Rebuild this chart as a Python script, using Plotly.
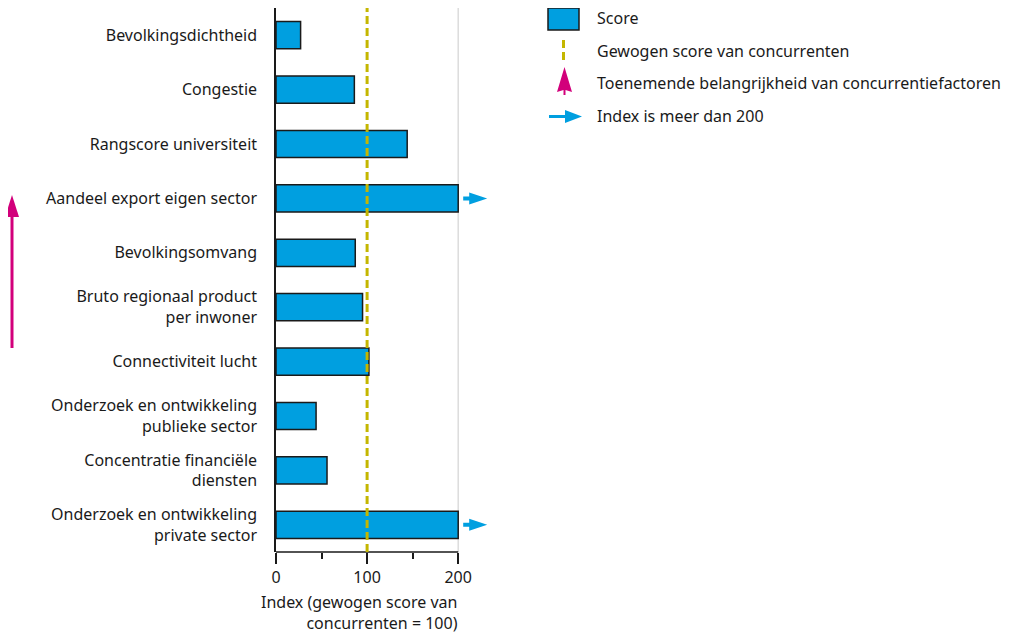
import plotly.graph_objects as go

# ---- data ----
categories = [
    "Bevolkingsdichtheid",
    "Congestie",
    "Rangscore universiteit",
    "Aandeel export eigen sector",
    "Bevolkingsomvang",
    "Bruto regionaal product<br>per inwoner",
    "Connectiviteit lucht",
    "Onderzoek en ontwikkeling<br>publieke sector",
    "Concentratie financiële<br>diensten",
    "Onderzoek en ontwikkeling<br>private sector",
]
scores = [27, 86, 144, 200, 87, 95, 102, 44, 56, 200]          # displayed (capped at 200)
above_200 = [False, False, False, True, False, False, False, False, False, True]
competitor_score = 100
x_tickvals = [0, 100, 200]
x_ticktext = ["0", "100", "200"]
x_minor_ticks = [50, 150]
x_title = "Index (gewogen score van<br>concurrenten = 100)"
legend_labels = [
    "Score",
    "Gewogen score van concurrenten",
    "Toenemende belangrijkheid van concurrentiefactoren",
    "Index is meer dan 200",
]

# ---- styles ----
BLUE = "#009fe0"
YELLOW = "#c4b600"
MAGENTA = "#d2007b"
INK = "#1a1a1a"
FONT = "Noto Sans"
FS = 16

# page body has an 8px default margin -> figure drawn from (8, 8)
OFF = 8
W, H = 1010 - OFF, 634 - OFF
L, T = 276 - OFF, 8 - OFF           # plot area origin within figure
PB = 552 - OFF                      # plot area bottom within figure


def rel(px, py):
    """page pixel -> offset relative to plot top-left corner (y up)"""
    return f"{px - OFF - L},{T - (py - OFF)}"


fig = go.Figure()
fig.add_trace(go.Bar(
    x=scores, y=categories, orientation="h", width=0.5,
    marker=dict(color=BLUE, line=dict(color=INK, width=1.5)),
    hoverinfo="skip", showlegend=False,
))

shapes = []
shapes.append(dict(type="line", xref="x", yref="paper", x0=200, x1=200, y0=0, y1=1,
                   line=dict(color="#dcdcdc", width=1.5), layer="below"))
shapes.append(dict(type="line", xref="x", yref="paper", x0=0, x1=200, y0=0, y1=0,
                   line=dict(color=INK, width=1.5), layer="above"))
shapes.append(dict(type="line", xref="x", yref="paper", x0=competitor_score, x1=competitor_score,
                   y0=0, y1=1, line=dict(color=YELLOW, width=3, dash="8px,4px"), layer="above"))

for cat, flag in zip(categories, above_200):
    if flag:
        shapes.append(dict(type="path", xref="x", yref="y", xsizemode="pixel", ysizemode="pixel",
                           xanchor=200, yanchor=cat,
                           path="M5,2 L11,2 L11,6 L29,0 L11,-6 L11,-2 L5,-2 Z",
                           fillcolor=BLUE, line=dict(width=0), layer="above"))


def pshape(path, fill=None, line=None):
    return dict(type="path", xref="paper", yref="paper", xsizemode="pixel", ysizemode="pixel",
                xanchor=0, yanchor=1, path=path, layer="above",
                fillcolor=fill if fill else "rgba(0,0,0,0)",
                line=line if line else dict(width=0))


# magenta importance arrow on the left
shapes.append(pshape(f"M{rel(10.5,214)} L{rel(13.5,214)} L{rel(13.5,348)} L{rel(10.5,348)} Z", fill=MAGENTA))
shapes.append(pshape(f"M{rel(12,195)} L{rel(19,217)} L{rel(5,217)} Z", fill=MAGENTA))

# legend symbols
shapes.append(pshape(f"M{rel(548,8)} L{rel(579,8)} L{rel(579,30)} L{rel(548,30)} Z",
                     fill=BLUE, line=dict(color=INK, width=1.5)))
shapes.append(pshape(f"M{rel(563.5,40)} L{rel(563.5,62)}",
                     line=dict(color=YELLOW, width=3, dash="8px,4px")))
shapes.append(pshape(f"M{rel(564.5,67)} L{rel(572,92)} L{rel(565.5,90)} L{rel(565.5,95)} L{rel(563.5,95)} L{rel(563.5,90)} L{rel(557,92)} Z",
                     fill=MAGENTA))
shapes.append(pshape(f"M{rel(549,115)} L{rel(565,115)} L{rel(565,110)} L{rel(582,116.5)} L{rel(565,123)} L{rel(565,118)} L{rel(549,118)} Z",
                     fill=BLUE))

annotations = []
legend_y = [18, 51, 83, 116]
for txt, py in zip(legend_labels, legend_y):
    annotations.append(dict(text=txt, xref="paper", yref="paper", x=0, y=1,
                            xshift=595 - OFF - L, yshift=T - (py - OFF), xanchor="left",
                            yanchor="middle", showarrow=False,
                            font=dict(family=FONT, size=FS, color=INK)))
annotations.append(dict(text=x_title, xref="x", yref="paper", x=200, y=0, xanchor="right",
                        yanchor="top", yshift=-37, xshift=2, align="right", showarrow=False,
                        font=dict(family=FONT, size=FS, color=INK)))

fig.update_layout(
    width=W, height=H,
    margin=dict(l=L, r=W - L - 215, t=T, b=H - PB, pad=0),
    plot_bgcolor="white", paper_bgcolor="white",
    font=dict(family=FONT, size=FS, color=INK),
    bargap=0.5,
    shapes=shapes, annotations=annotations,
    showlegend=False,
    xaxis=dict(range=[0, 236], tickvals=x_tickvals, ticktext=x_ticktext, ticks="outside",
               ticklen=11, tickwidth=1.5, tickcolor=INK, showline=False, showgrid=False,
               zeroline=False, fixedrange=True,
               minor=dict(tickvals=x_minor_ticks, ticks="outside", ticklen=6, tickwidth=1.5,
                          tickcolor=INK, showgrid=False),
               tickfont=dict(family=FONT, size=FS, color=INK)),
    yaxis=dict(type="category", categoryorder="array", categoryarray=categories,
               range=[len(categories) - 0.5, -0.5], showline=True, linecolor=INK, linewidth=1.5,
               showgrid=False, zeroline=False, ticks="", ticklabelstandoff=14,
               tickfont=dict(family=FONT, size=FS, color=INK)),
)

fig.write_html("out.html")
